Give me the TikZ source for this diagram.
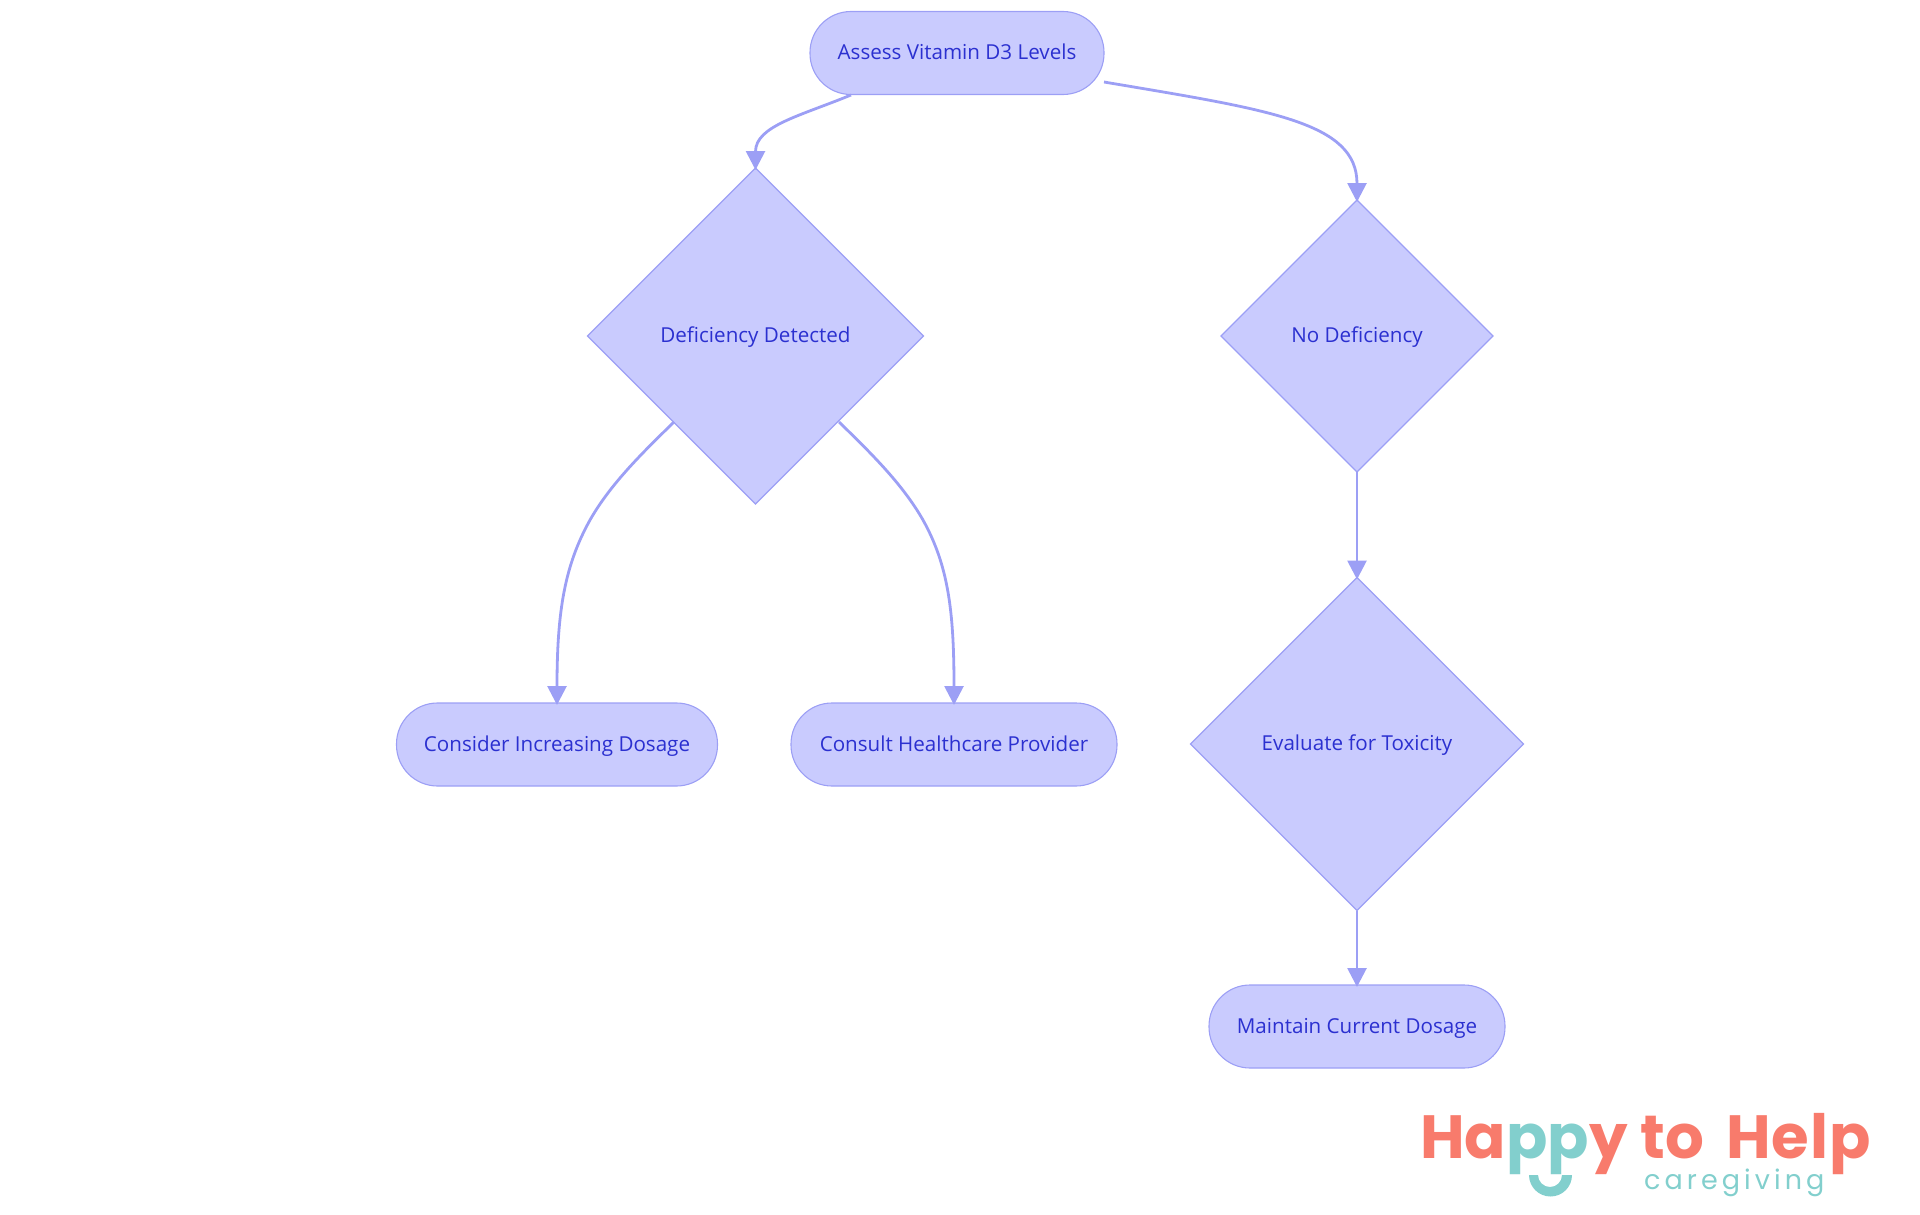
\documentclass[tikz,border=0pt]{standalone}
\usepackage{fontspec}
\setmainfont{Open Sans}
\newfontfamily\logofont{Poppins}
\newfontfamily\helpfont[LetterSpace=1.5]{Poppins}
\newfontfamily\carefont[LetterSpace=15]{Poppins}
\usetikzlibrary{shapes.geometric,arrows.meta}
\definecolor{nodefill}{HTML}{C9CBFE}
\definecolor{nodeline}{HTML}{9C9FF5}
\definecolor{nodetext}{HTML}{2B30D0}
\definecolor{coral}{HTML}{F87B6C}
\definecolor{teal}{HTML}{82CFCD}
\tikzset{
 x=1pt,y=-1pt,
 labeltext/.style={text=nodetext,font=\fontsize{20.6}{24}\selectfont,inner sep=0pt,outer sep=0pt,text height=17pt,text depth=4pt},
 pill/.style={labeltext,draw=nodeline,fill=nodefill,line width=1.1pt,rounded corners=41pt,minimum height=83pt},
 dia/.style={labeltext,draw=nodeline,fill=nodefill,line width=1.1pt,diamond,aspect=1},
 link/.style={draw=nodeline,line width=2.8pt,-{Triangle[length=19pt,width=19pt,fill=nodeline]},shorten >=-2pt},
}
\begin{document}
\begin{tikzpicture}
\useasboundingbox (0,0) rectangle (1920,1215);
\node[pill,minimum width=294pt] (a) at (957,53) {Assess Vitamin D3 Levels};
\node[dia,minimum size=336pt] (b) at (755.5,336) {Deficiency Detected};
\node[dia,minimum size=272pt] (c) at (1357,336) {No Deficiency};
\node[dia,minimum size=333pt] (d) at (1357,744) {Evaluate for Toxicity};
\node[pill,minimum width=321pt] (e) at (557,744.5) {Consider Increasing Dosage};
\node[pill,minimum width=326pt] (f) at (954,744.5) {Consult Healthcare Provider};
\node[pill,minimum width=296pt] (g) at (1357,1026.5) {Maintain Current Dosage};
\coordinate (a1) at (851,95);
\coordinate (a2) at (1104,82);
\coordinate (b1) at (674,422);
\coordinate (b2) at (839,422);
\draw[link] (a1) .. controls (800,116) and (755.5,126) .. (b.north);
\draw[link] (a2) .. controls (1270,110) and (1357,122) .. (c.north);
\draw[link] (b1) .. controls (640,455) and (610,485) .. (590,520) .. controls (565,565) and (557,610) .. (e.north);
\draw[link] (b2) .. controls (873,455) and (903,485) .. (923,520) .. controls (948,565) and (954,610) .. (f.north);
\draw[link] (c.south) -- (d.north);
\draw[link] (d.south) -- (g.north);
\node[anchor=base west,inner sep=0pt,text depth=0pt,font=\logofont\bfseries\fontsize{61}{61}\selectfont] (logo) at (1420,1158) {\textcolor{coral}{Ha}\textcolor{teal}{pp}\textcolor{coral}{y\hspace{13pt}to\hspace{22pt}{\helpfont\bfseries Help}}};
\node[anchor=base west,inner sep=0pt,text=teal,text height=14pt,font=\carefont\fontsize{27}{27}\selectfont] (care) at (1644,1189) {caregiving};
\fill[teal] (1529,1175) arc[start angle=180,end angle=0,radius=21.5] -- (1562,1175) arc[start angle=0,end angle=180,radius=12] -- cycle;
\end{tikzpicture}
\end{document}
